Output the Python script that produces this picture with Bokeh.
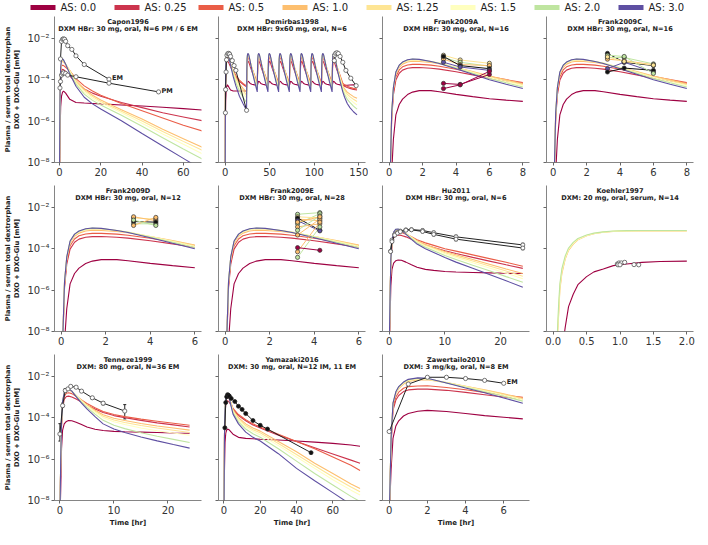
from bokeh.plotting import figure
from bokeh.models import (Range1d, FixedTicker, CustomJSTickFormatter, PrintfTickFormatter,
                          Label, Whisker, ColumnDataSource, TeeHead)
from bokeh.core.properties import value
from bokeh.layouts import column, row
from bokeh.embed import file_html
from bokeh.resources import INLINE

# ---------------- data (log10 of concentration in mM) ----------------
AS_VALUES = [0.0, 0.25, 0.5, 1.0, 1.25, 1.5, 2.0, 3.0]
AS_COLORS = ["#9e0142", "#cc344d", "#ea5d47", "#fdbf6f", "#fee594", "#ffffbf", "#bfe5a0", "#5e4fa2"]
Y_TICKS = [1e-8, 1e-6, 1e-4, 1e-2]

# Capon1996
CAPON_T = [0, 0.3, 0.6, 1, 1.5, 2, 3, 5, 8, 12, 16, 20, 30, 40, 50, 60, 70]
CAPON_M = [
    [-9, -6.5, -5.3, -4.8, -4.6, -4.55, -4.65, -4.95, -5.1, -5.13, -5.15, -5.17, -5.22, -5.27, -5.33, -5.4, -5.47],
    [-9, -4.8, -3.8, -3.55, -3.5, -3.52, -3.6, -3.82, -4.15, -4.45, -4.65, -4.8, -5.1, -5.35, -5.6, -5.8, -6.0],
    [-9, -4.6, -3.6, -3.35, -3.3, -3.32, -3.4, -3.58, -3.95, -4.3, -4.55, -4.75, -5.15, -5.5, -5.85, -6.2, -6.5],
    [-9, -4.5, -3.45, -3.15, -3.12, -3.15, -3.27, -3.55, -4.05, -4.45, -4.75, -4.98, -5.45, -5.9, -6.4, -6.85, -7.3],
    [-9, -4.5, -3.43, -3.1, -3.08, -3.12, -3.25, -3.57, -4.1, -4.52, -4.82, -5.05, -5.52, -6.0, -6.5, -6.98, -7.45],
    [-9, -4.5, -3.42, -3.08, -3.05, -3.09, -3.24, -3.6, -4.15, -4.6, -4.9, -5.12, -5.6, -6.1, -6.62, -7.12, -7.62],
    [-9, -4.5, -3.4, -3.06, -3.02, -3.07, -3.24, -3.65, -4.22, -4.7, -5.0, -5.22, -5.72, -6.25, -6.8, -7.35, -7.88],
    [-9, -4.5, -3.4, -3.05, -3.0, -3.05, -3.25, -3.72, -4.32, -4.85, -5.17, -5.42, -5.98, -6.6, -7.2, -7.8, -8.4],
]
CAPON_EM_T = [0.5, 1, 1.5, 2, 2.5, 3, 4, 6, 8, 12, 24]
CAPON_EM_V = [-3.0, -2.15, -2.05, -2.03, -2.05, -2.15, -2.36, -2.54, -2.85, -3.27, -3.98]
CAPON_PM_T = [0.25, 0.5, 1, 1.5, 2, 3, 4, 8, 24, 48]
CAPON_PM_V = [-4.4, -4.09, -3.78, -3.70, -3.67, -3.70, -3.78, -3.86, -4.17, -4.59]

# Demirbas1998 (first dose, repeated 12 h steady-state cycle, tail)
DEM_FIRST_T = [0, 0.3, 0.6, 1, 1.5, 2.5, 4, 6, 9, 12, 16, 20, 24]
DEM_FIRST_M = [
    [-9, -6.0, -5.0, -4.6, -4.35, -4.25, -4.35, -4.5, -4.55, -4.55, -4.55, -4.55, -4.55],
    [-9, -4.7, -3.75, -3.38, -3.18, -3.1, -3.18, -3.38, -3.65, -3.88, -4.08, -4.22, -4.35],
    [-9, -4.6, -3.6, -3.2, -3.0, -2.92, -3.02, -3.25, -3.55, -3.8, -4.02, -4.18, -4.3],
    [-9, -4.5, -3.45, -3.05, -2.87, -2.8, -2.94, -3.23, -3.6, -3.9, -4.2, -4.42, -4.6],
    [-9, -4.5, -3.42, -3.02, -2.84, -2.78, -2.93, -3.24, -3.65, -3.98, -4.3, -4.53, -4.75],
    [-9, -4.5, -3.4, -3.0, -2.82, -2.76, -2.92, -3.25, -3.7, -4.05, -4.4, -4.65, -4.88],
    [-9, -4.5, -3.4, -3.0, -2.8, -2.74, -2.9, -3.25, -3.75, -4.15, -4.55, -4.85, -5.1],
    [-9, -4.5, -3.4, -3.0, -2.8, -2.73, -2.9, -3.3, -3.85, -4.3, -4.8, -5.15, -5.48],
]
DEM_DOSE_T = [24, 36, 48, 60, 72, 84, 96, 108, 120]
DEM_CYCLE_OFF = [0.3, 0.6, 1, 1.5, 2.5, 4, 6, 9, 12]
DEM_CYCLE_M = [
    [-4.25, -4.2, -4.12, -4.08, -4.1, -4.18, -4.22, -4.25, -4.27],
    [-3.8, -3.4, -3.2, -3.1, -3.15, -3.35, -3.6, -3.95, -4.25],
    [-3.7, -3.2, -3.0, -2.92, -2.98, -3.2, -3.45, -3.8, -4.17],
    [-3.6, -3.05, -2.87, -2.8, -2.88, -3.12, -3.43, -3.85, -4.3],
    [-3.6, -3.02, -2.84, -2.78, -2.86, -3.1, -3.45, -3.9, -4.36],
    [-3.6, -3.0, -2.82, -2.76, -2.84, -3.1, -3.47, -3.95, -4.42],
    [-3.6, -3.0, -2.8, -2.74, -2.82, -3.1, -3.5, -4.02, -4.5],
    [-3.6, -3.0, -2.8, -2.73, -2.8, -3.1, -3.55, -4.1, -4.59],
]
DEM_TAIL_OFF = [14, 17, 20, 24, 28]
DEM_TAIL_M = [
    [-4.27, -4.27, -4.26, -4.25, -4.25],
    [-4.32, -4.38, -4.42, -4.47, -4.5],
    [-4.25, -4.32, -4.37, -4.42, -4.45],
    [-4.45, -4.6, -4.7, -4.82, -4.9],
    [-4.52, -4.7, -4.82, -4.95, -5.05],
    [-4.6, -4.8, -4.95, -5.1, -5.22],
    [-4.72, -4.95, -5.1, -5.28, -5.42],
    [-4.85, -5.15, -5.35, -5.55, -5.7],
]
DEM_D1_T = [0.25, 0.5, 1, 1.5, 2, 3, 4, 5, 6, 8, 10, 12, 24]
DEM_D1_V = [-5.6, -4.48, -3.63, -3.04, -2.82, -2.74, -2.73, -2.77, -2.88, -3.08, -3.32, -3.55, -5.48]
DEM_D2_T = [122.5, 123, 124, 125.5, 127, 129, 132, 135.5, 141, 147]
DEM_D2_V = [-3.08, -2.82, -2.73, -2.70, -2.74, -2.88, -3.16, -3.55, -3.93, -4.29]

# Frank2009 (A, C, D, E share the same simulation)
FRANK_T = [0, 0.08, 0.15, 0.25, 0.4, 0.6, 0.8, 1.1, 1.4, 1.8, 2.5, 3, 4, 5, 6, 7, 8]
FRANK_M = [
    [-9, -9, -8.5, -6.9, -5.7, -5.2, -4.94, -4.72, -4.6, -4.53, -4.53, -4.58, -4.71, -4.82, -4.92, -4.99, -5.05],
    [-9, -8.2, -5.9, -4.75, -4.02, -3.69, -3.54, -3.45, -3.42, -3.41, -3.45, -3.49, -3.62, -3.77, -3.93, -4.06, -4.18],
    [-9, -8.1, -5.75, -4.6, -3.86, -3.53, -3.38, -3.29, -3.26, -3.26, -3.3, -3.35, -3.5, -3.67, -3.85, -4.0, -4.14],
    [-9, -8.0, -5.65, -4.48, -3.73, -3.4, -3.25, -3.15, -3.11, -3.12, -3.17, -3.23, -3.41, -3.61, -3.82, -4.01, -4.2],
    [-9, -8.0, -5.62, -4.44, -3.68, -3.35, -3.2, -3.09, -3.05, -3.06, -3.13, -3.2, -3.41, -3.63, -3.86, -4.05, -4.24],
    [-9, -8.0, -5.6, -4.42, -3.66, -3.33, -3.18, -3.07, -3.03, -3.04, -3.12, -3.2, -3.42, -3.66, -3.9, -4.1, -4.29],
    [-9, -8.0, -5.6, -4.4, -3.64, -3.31, -3.16, -3.05, -3.01, -3.03, -3.12, -3.21, -3.44, -3.69, -3.94, -4.15, -4.35],
    [-9, -8.0, -5.6, -4.4, -3.63, -3.3, -3.15, -3.04, -3.0, -3.02, -3.12, -3.22, -3.47, -3.74, -4.0, -4.22, -4.43],
]
FRANK_A_T = [3.25, 4.25, 6.0]
FRANK_A_AS = [4, 6, 3, -1, 7, 0, 0]
FRANK_A_V = [[-2.82, -3.05, -3.21], [-2.93, -3.16, -3.35], [-3.01, -3.27, -3.32], [-2.88, -3.32, -3.47],
             [-3.16, -3.39, -3.55], [-4.18, -4.23, -3.75], [-4.43, -4.25, -3.6]]
FRANK_C_T = [3.25, 4.25, 6.0]
FRANK_C_AS = [-1, 6, 3, 7, -1, 6, 4]
FRANK_C_V = [[-2.73, -3.16, -3.32], [-2.93, -2.93, -3.24], [-3.01, -3.08, -3.28], [-3.47, -3.16, -3.63],
             [-3.63, -3.44, -3.55], [-2.82, -2.88, -3.7], [-2.9, -3.12, -3.3]]
FRANK_D_T = [3.25, 4.25]
FRANK_D_AS = [4, 3, 6, -1, 3, 6]
FRANK_D_V = [[-2.52, -2.57], [-2.46, -2.65], [-2.8, -2.8], [-2.69, -2.72], [-2.88, -2.49], [-2.62, -2.88]]
FRANK_E_T = [3.25, 4.25]
FRANK_E_AS = [6, 6, 4, 3, -1, 7, 3, 3, 6, 3, 0, 6, 3]
FRANK_E_V = [[-2.34, -2.26], [-2.8, -2.31], [-2.46, -2.52], [-2.57, -2.65], [-2.52, -3.11], [-2.65, -3.14],
             [-2.95, -2.8], [-3.34, -2.57], [-4.42, -2.95], [-4.15, -2.72], [-3.95, -4.08], [-3.11, -2.42],
             [-2.72, -2.46]]

# Hu2011
HU_T = [0, 0.15, 0.3, 0.5, 0.8, 1.2, 1.6, 2.2, 3, 4, 5, 6.5, 8, 10, 12, 15, 18, 21, 24]
HU_M = [
    [-9, -7.5, -5.8, -5.0, -4.7, -4.58, -4.55, -4.56, -4.65, -4.78, -4.9, -5.0, -5.05, -5.1, -5.13, -5.15, -5.17, -5.19, -5.2],
    [-9, -6.7, -4.7, -3.85, -3.48, -3.36, -3.34, -3.36, -3.43, -3.55, -3.68, -3.82, -3.94, -4.1, -4.23, -4.42, -4.6, -4.78, -4.95],
    [-9, -6.6, -4.6, -3.75, -3.36, -3.22, -3.2, -3.22, -3.3, -3.43, -3.57, -3.72, -3.84, -4.0, -4.12, -4.3, -4.48, -4.66, -4.85],
    [-9, -6.5, -4.5, -3.65, -3.26, -3.13, -3.12, -3.15, -3.27, -3.44, -3.62, -3.8, -3.95, -4.14, -4.29, -4.52, -4.75, -4.98, -5.2],
    [-9, -6.5, -4.5, -3.63, -3.24, -3.11, -3.1, -3.14, -3.27, -3.45, -3.65, -3.84, -3.99, -4.2, -4.36, -4.6, -4.84, -5.08, -5.33],
    [-9, -6.5, -4.5, -3.62, -3.22, -3.09, -3.08, -3.13, -3.27, -3.47, -3.68, -3.88, -4.03, -4.25, -4.42, -4.68, -4.93, -5.18, -5.45],
    [-9, -6.5, -4.5, -3.6, -3.2, -3.07, -3.06, -3.12, -3.28, -3.5, -3.72, -3.93, -4.1, -4.33, -4.52, -4.8, -5.07, -5.35, -5.62],
    [-9, -6.5, -4.5, -3.6, -3.2, -3.06, -3.05, -3.12, -3.3, -3.55, -3.78, -4.0, -4.18, -4.43, -4.65, -4.95, -5.25, -5.55, -5.86],
]
HU_D_T = [0.25, 0.5, 1, 1.5, 2, 3, 4, 6, 8, 12, 24]
HU_D1_V = [-4.12, -3.58, -3.31, -3.22, -3.15, -3.09, -3.08, -3.12, -3.23, -3.43, -3.82]
HU_D2_V = [-4.14, -3.66, -3.35, -3.25, -3.18, -3.11, -3.09, -3.17, -3.31, -3.54, -3.97]
HU_ERR = [0.03, 0.03, 0.03, 0.03, 0.03, 0.03, 0.04, 0.06, 0.07, 0.08, 0.08]

# Koehler1997
KOEHLER_T = [0.05, 0.08, 0.1, 0.13, 0.18, 0.23, 0.3, 0.37, 0.5, 0.61, 0.75, 0.9, 1.1, 1.33, 1.6, 2.0]
KOEHLER_AS = [0, 3, 4, 5, 6]
KOEHLER_M = [
    [-9, -9, -9, -9, -7.8, -6.8, -6.2, -5.74, -5.35, -5.12, -4.98, -4.82, -4.74, -4.66, -4.62, -4.6],
    [-9, -7.3, -6.0, -5.2, -4.5, -4.08, -3.78, -3.57, -3.38, -3.28, -3.21, -3.17, -3.15, -3.14, -3.14, -3.14],
    [-9, -7.2, -5.9, -5.12, -4.46, -4.05, -3.76, -3.56, -3.37, -3.27, -3.2, -3.16, -3.14, -3.13, -3.13, -3.13],
    [-9, -7.0, -5.8, -5.05, -4.42, -4.02, -3.74, -3.54, -3.36, -3.27, -3.2, -3.16, -3.14, -3.13, -3.13, -3.13],
    [-9, -6.8, -5.7, -4.97, -4.35, -3.97, -3.7, -3.51, -3.34, -3.25, -3.19, -3.15, -3.13, -3.12, -3.12, -3.12],
]
KOEHLER_D_T = [0.96, 0.985, 1.02, 1.07, 0.97, 1.0, 1.21, 1.28]
KOEHLER_D_V = [-4.74, -4.69, -4.69, -4.66, -4.78, -4.78, -4.77, -4.78]

# Tenneze1999
TEN_T = [0, 0.15, 0.3, 0.5, 0.8, 1.2, 1.6, 2.2, 3, 4, 5, 6.5, 8, 10, 12, 15, 18, 21, 24]
TEN_M = [
    [-9, -7.5, -5.5, -4.6, -4.3, -4.18, -4.14, -4.15, -4.22, -4.33, -4.45, -4.56, -4.62, -4.66, -4.68, -4.7, -4.72, -4.74, -4.75],
    [-9, -6.2, -4.4, -3.5, -3.12, -2.98, -2.96, -3.0, -3.1, -3.25, -3.4, -3.58, -3.75, -3.9, -4.0, -4.13, -4.25, -4.35, -4.45],
    [-9, -6.1, -4.3, -3.35, -2.97, -2.82, -2.8, -2.84, -2.97, -3.15, -3.32, -3.52, -3.7, -3.85, -3.95, -4.07, -4.17, -4.27, -4.37],
    [-9, -6.0, -4.2, -3.25, -2.86, -2.7, -2.67, -2.74, -2.92, -3.16, -3.38, -3.64, -3.86, -4.03, -4.14, -4.28, -4.4, -4.5, -4.6],
    [-9, -6.0, -4.2, -3.23, -2.84, -2.68, -2.65, -2.73, -2.92, -3.18, -3.41, -3.69, -3.93, -4.11, -4.23, -4.38, -4.5, -4.61, -4.72],
    [-9, -6.0, -4.2, -3.22, -2.82, -2.66, -2.63, -2.72, -2.93, -3.2, -3.44, -3.74, -4.0, -4.2, -4.33, -4.5, -4.63, -4.74, -4.85],
    [-9, -6.0, -4.2, -3.2, -2.8, -2.64, -2.61, -2.71, -2.95, -3.25, -3.5, -3.83, -4.13, -4.37, -4.53, -4.73, -4.9, -5.05, -5.2],
    [-9, -6.0, -4.2, -3.2, -2.8, -2.63, -2.6, -2.72, -2.98, -3.3, -3.58, -3.95, -4.3, -4.55, -4.72, -4.93, -5.12, -5.3, -5.47],
]
TEN_D_T = [0, 0.5, 1, 1.5, 2, 3, 4, 6, 8, 12]
TEN_D_V = [-4.79, -3.42, -2.69, -2.61, -2.49, -2.53, -2.72, -3.04, -3.3, -3.68]
TEN_D_LO = [-5.13, -3.5, -2.78, -2.66, -2.54, -2.58, -2.77, -3.1, -3.38, -4.06]
TEN_D_HI = [-4.29, -3.3, -2.6, -2.56, -2.44, -2.48, -2.67, -2.98, -3.22, -3.37]

# Yamazaki2016
YAM_T = [0, 0.3, 0.6, 1, 1.5, 2, 3, 5, 8, 12, 16, 20, 30, 40, 50, 60, 70, 75]
YAM_M = [
    [-9, -6.5, -5.2, -4.75, -4.6, -4.55, -4.6, -4.8, -4.95, -5.0, -5.02, -5.04, -5.08, -5.13, -5.18, -5.24, -5.32, -5.38],
    [-9, -5.0, -3.85, -3.35, -3.2, -3.18, -3.25, -3.6, -3.9, -4.15, -4.35, -4.5, -4.85, -5.15, -5.45, -5.75, -6.05, -6.2],
    [-9, -4.9, -3.7, -3.2, -3.05, -3.02, -3.1, -3.55, -3.85, -4.1, -4.3, -4.45, -4.8, -5.15, -5.5, -5.9, -6.3, -6.55],
    [-9, -4.8, -3.62, -3.12, -2.98, -2.96, -3.04, -3.63, -4.0, -4.3, -4.5, -4.65, -5.15, -5.65, -6.2, -6.7, -7.2, -7.42],
    [-9, -4.8, -3.6, -3.11, -2.97, -2.95, -3.05, -3.67, -4.07, -4.38, -4.58, -4.73, -5.25, -5.78, -6.32, -6.85, -7.35, -7.58],
    [-9, -4.8, -3.6, -3.1, -2.96, -2.94, -3.06, -3.7, -4.12, -4.45, -4.66, -4.82, -5.35, -5.9, -6.45, -7.0, -7.5, -7.73],
    [-9, -4.8, -3.6, -3.1, -2.95, -2.93, -3.08, -3.75, -4.2, -4.55, -4.78, -4.95, -5.5, -6.1, -6.7, -7.25, -7.8, -8.05],
    [-9, -4.8, -3.6, -3.1, -2.95, -2.92, -3.1, -3.83, -4.3, -4.7, -4.95, -5.13, -5.74, -6.45, -7.05, -7.62, -8.2, -8.5],
]
YAM_D_T = [0.5, 1, 1.5, 2, 2.5, 3, 4, 6, 8, 10, 12, 16, 20, 24, 48]
YAM_D_V = [-4.49, -3.27, -2.99, -2.89, -2.92, -2.96, -3.07, -3.22, -3.45, -3.6, -3.8, -4.14, -4.37, -4.55, -5.69]

# Zawertailo2010
ZAW_T = [0, 0.1, 0.2, 0.35, 0.5, 0.75, 1, 1.5, 2, 3, 4, 5, 6, 7]
ZAW_M = [
    [-9, -6.5, -5.0, -4.4, -4.15, -3.92, -3.8, -3.69, -3.65, -3.7, -3.8, -3.9, -3.98, -4.06],
    [-9, -5.3, -3.65, -3.15, -2.93, -2.74, -2.66, -2.62, -2.62, -2.68, -2.78, -2.89, -3.0, -3.1],
    [-9, -5.2, -3.5, -3.0, -2.77, -2.58, -2.5, -2.47, -2.46, -2.54, -2.65, -2.78, -2.9, -3.02],
    [-9, -5.0, -3.35, -2.83, -2.6, -2.38, -2.25, -2.18, -2.17, -2.31, -2.48, -2.66, -2.85, -3.06],
    [-9, -5.0, -3.32, -2.8, -2.56, -2.34, -2.21, -2.14, -2.14, -2.3, -2.49, -2.68, -2.88, -3.1],
    [-9, -5.0, -3.3, -2.78, -2.54, -2.32, -2.19, -2.12, -2.13, -2.31, -2.51, -2.71, -2.92, -3.14],
    [-9, -5.0, -3.3, -2.76, -2.52, -2.3, -2.17, -2.1, -2.11, -2.32, -2.53, -2.75, -2.97, -3.2],
    [-9, -5.0, -3.3, -2.75, -2.5, -2.28, -2.15, -2.08, -2.1, -2.33, -2.57, -2.8, -3.05, -3.3],
]
ZAW_D_T = [0, 1, 2, 3, 4, 5, 6]
ZAW_D_V = [-4.67, -2.38, -2.05, -2.05, -2.11, -2.2, -2.34]

# ---------------- styling ----------------
FONT = "DejaVu Sans"
FW, FH = 147, 146
Y_LO, Y_HI = -8.0, -0.95
SUP_JS = """
const m = {"-":"\\u207b","0":"\\u2070","1":"\\u00b9","2":"\\u00b2","3":"\\u00b3","4":"\\u2074",
           "5":"\\u2075","6":"\\u2076","7":"\\u2077","8":"\\u2078","9":"\\u2079"};
const e = String(Math.round(Math.log10(tick)));
let s = "10";
for (const c of e) { s += m[c]; }
return s;
"""


def L(v):
    return [10 ** x for x in v]


def panel(xr, xticks, t1, t2, col, rw, fmt=None):
    p = figure(frame_width=FW, frame_height=FH, x_range=Range1d(*xr),
               y_range=Range1d(10 ** Y_LO, 10 ** Y_HI), y_axis_type="log",
               output_backend="svg", toolbar_location=None,
               min_border_left=46 if col == 0 else 14, min_border_right=6 if col == 3 else 3,
               min_border_top=2, min_border_bottom=29 if rw == 2 else 21)
    p.outline_line_color = None
    p.grid.visible = False
    for ax in (p.xaxis[0], p.yaxis[0]):
        ax.axis_line_color = "#666666"
        ax.axis_line_width = 0.8
        ax.major_tick_line_color = "#666666"
        ax.major_tick_out = 3
        ax.major_tick_in = 0
        ax.minor_tick_line_color = None
        ax.major_label_text_font = FONT
        ax.major_label_text_font_size = "10px"
        ax.major_label_text_color = "#333333"
        ax.major_label_standoff = 2
    p.xaxis.ticker = FixedTicker(ticks=xticks, minor_ticks=[])
    p.yaxis.ticker = FixedTicker(ticks=Y_TICKS, minor_ticks=[])
    if fmt is not None:
        p.xaxis.formatter = fmt
    if col == 0:
        p.yaxis.formatter = CustomJSTickFormatter(code=SUP_JS)
        p.yaxis.axis_label = "Plasma / serum total dextrorphan\nDXO + DXO-Glu [mM]"
        p.yaxis.axis_label_text_font = FONT
        p.yaxis.axis_label_text_font_style = "bold"
        p.yaxis.axis_label_text_font_size = "6.6px"
        p.yaxis.axis_label_standoff = 3
        p.yaxis.axis_label_text_color = "#222222"
    else:
        p.yaxis.formatter = CustomJSTickFormatter(code="return '';")
        p.yaxis.major_label_standoff = 0
    if rw == 2:
        p.xaxis.axis_label = "Time [hr]"
        p.xaxis.axis_label_text_font = FONT
        p.xaxis.axis_label_text_font_style = "bold"
        p.xaxis.axis_label_text_font_size = "7px"
        p.xaxis.axis_label_standoff = 2
        p.xaxis.axis_label_text_color = "#222222"
    xm = 0.5 * (xr[0] + xr[1])
    for txt, dy in ((t1, 0.26), (t2, 0.6)):
        p.add_layout(Label(x=xm, y=10 ** (Y_HI - dy), text=txt, text_align="center",
                           text_baseline="middle", text_font=FONT, text_font_style="bold",
                           text_font_size="6.6px", text_color="#222222"))
    return p


def models(p, t, rows, idx=None):
    idx = list(range(len(AS_VALUES))) if idx is None else idx
    for k, r in zip(idx, rows):
        p.line(t, L(r), line_color=AS_COLORS[k], line_width=1.1)


def black_data(p, t, v, filled=False, size=4.2):
    p.line(t, L(v), line_color="#222222", line_width=1)
    p.scatter(t, L(v), size=size, fill_color="#111111" if filled else "white",
              line_color="#222222" if filled else "#555555", line_width=0.8)


def color_data(p, t, idxs, vals):
    for k, v in zip(idxs, vals):
        c = "#111111" if k < 0 else AS_COLORS[k]
        p.line(t, L(v), line_color=c, line_width=1)
    for k, v in zip(idxs, vals):
        c = "#111111" if k < 0 else AS_COLORS[k]
        p.scatter(t, L(v), size=4.2, fill_color=c, line_color="#333333", line_width=0.7)


def end_label(p, x, v, text):
    p.add_layout(Label(x=x, y=10 ** v, text=text, x_offset=3, y_offset=1, text_baseline="middle",
                       text_font=FONT, text_font_style="bold", text_font_size="6.5px",
                       text_color="#222222"))


def cut(t, rows, tmax):
    keep = [i for i, x in enumerate(t) if x <= tmax]
    return [t[i] for i in keep], [[r[i] for i in keep] for r in rows]


# ---------------- panels ----------------
p1 = panel((-2.4, 68.8), [0, 20, 40, 60], "Capon1996", "DXM HBr: 30 mg, oral, N=6 PM / 6 EM", 0, 0)
models(p1, CAPON_T, CAPON_M)
black_data(p1, CAPON_EM_T, CAPON_EM_V)
black_data(p1, CAPON_PM_T, CAPON_PM_V)
end_label(p1, CAPON_EM_T[-1], CAPON_EM_V[-1], "EM")
end_label(p1, CAPON_PM_T[-1], CAPON_PM_V[-1], "PM")

dem_t = list(DEM_FIRST_T)
dem_m = [list(r) for r in DEM_FIRST_M]
for d in DEM_DOSE_T:
    for k, off in enumerate(DEM_CYCLE_OFF):
        dem_t.append(d + off)
        for i in range(len(AS_VALUES)):
            dem_m[i].append(DEM_CYCLE_M[i][k])
for k, off in enumerate(DEM_TAIL_OFF):
    dem_t.append(DEM_DOSE_T[-1] + off)
    for i in range(len(AS_VALUES)):
        dem_m[i].append(DEM_TAIL_M[i][k])
p2 = panel((-7.5, 157.5), [0, 50, 100, 150], "Demirbas1998", "DXM HBr: 9x60 mg, oral, N=6", 1, 0)
models(p2, dem_t, dem_m)
black_data(p2, DEM_D1_T, DEM_D1_V)
black_data(p2, DEM_D2_T, DEM_D2_V)

p3 = panel((-0.4, 8.4), [0, 2, 4, 6, 8], "Frank2009A", "DXM HBr: 30 mg, oral, N=16", 2, 0)
models(p3, FRANK_T, FRANK_M)
color_data(p3, FRANK_A_T, FRANK_A_AS, FRANK_A_V)
p4 = panel((-0.4, 8.4), [0, 2, 4, 6, 8], "Frank2009C", "DXM HBr: 30 mg, oral, N=16", 3, 0)
models(p4, FRANK_T, FRANK_M)
color_data(p4, FRANK_C_T, FRANK_C_AS, FRANK_C_V)

ft6, fm6 = cut(FRANK_T, FRANK_M, 6)
p5 = panel((-0.3, 6.3), [0, 2, 4, 6], "Frank2009D", "DXM HBr: 30 mg, oral, N=12", 0, 1)
models(p5, ft6, fm6)
color_data(p5, FRANK_D_T, FRANK_D_AS, FRANK_D_V)
p6 = panel((-0.3, 6.3), [0, 2, 4, 6], "Frank2009E", "DXM HBr: 30 mg, oral, N=28", 1, 1)
models(p6, ft6, fm6)
color_data(p6, FRANK_E_T, FRANK_E_AS, FRANK_E_V)

p7 = panel((-1.2, 25.2), [0, 10, 20], "Hu2011", "DXM HBr: 30 mg, oral, N=6", 2, 1)
models(p7, HU_T, HU_M)
for vv in (HU_D1_V, HU_D2_V):
    src = ColumnDataSource(dict(t=HU_D_T, lo=[10 ** (a - e) for a, e in zip(vv, HU_ERR)],
                                hi=[10 ** (a + e) for a, e in zip(vv, HU_ERR)]))
    p7.add_layout(Whisker(source=src, base="t", lower="lo", upper="hi", line_color="#222222",
                          line_width=1, upper_head=TeeHead(size=3, line_color="#222222"),
                          lower_head=TeeHead(size=3, line_color="#222222")))
    black_data(p7, HU_D_T, vv, size=4)

p8 = panel((-0.1, 2.1), [0, 0.5, 1, 1.5, 2], "Koehler1997", "DXM: 20 mg, oral, serum, N=14", 3, 1,
           fmt=PrintfTickFormatter(format="%.1f"))
models(p8, KOEHLER_T, KOEHLER_M, KOEHLER_AS)
p8.scatter(KOEHLER_D_T, L(KOEHLER_D_V), size=4.2, fill_color="white", line_color="#555555", line_width=0.8)

p9 = panel((-1.0, 26.2), [0, 10, 20], "Tenneze1999", "DXM: 80 mg, oral, N=36 EM", 0, 2)
models(p9, TEN_T, TEN_M)
tsrc = ColumnDataSource(dict(t=TEN_D_T, lo=L(TEN_D_LO), hi=L(TEN_D_HI)))
p9.add_layout(Whisker(source=tsrc, base="t", lower="lo", upper="hi", line_color="#222222", line_width=1,
                      upper_head=TeeHead(size=3, line_color="#222222"),
                      lower_head=TeeHead(size=3, line_color="#222222")))
black_data(p9, TEN_D_T, TEN_D_V)

p10 = panel((-3.0, 78.0), [0, 20, 40, 60], "Yamazaki2016", "DXM: 30 mg, oral, N=12 IM, 11 EM", 1, 2)
models(p10, YAM_T, YAM_M)
black_data(p10, YAM_D_T, YAM_D_V, filled=True, size=4)

p11 = panel((-0.35, 7.35), [0, 2, 4, 6], "Zawertailo2010", "DXM: 3 mg/kg, oral, N=8 EM", 2, 2)
models(p11, ZAW_T, ZAW_M)
black_data(p11, ZAW_D_T, ZAW_D_V)
end_label(p11, ZAW_D_T[-1], ZAW_D_V[-1], "EM")

# ---------------- legend (own strip above the panels) ----------------
LEG_W, LEG_H = 691, 14
LEG_X0, LEG_PITCH, LEG_BAR = 30, 84, 25
lf = figure(width=LEG_W, height=LEG_H, x_range=Range1d(0, LEG_W), y_range=Range1d(0, LEG_H),
            output_backend="svg", toolbar_location=None, x_axis_location=None,
            y_axis_location=None, min_border=0)
lf.outline_line_color = None
lf.grid.visible = False
leg_x = [LEG_X0 + i * LEG_PITCH for i in range(len(AS_VALUES))]
leg_y = [LEG_H / 2] * len(AS_VALUES)
lf.segment(x0=leg_x, y0=leg_y, x1=[x + LEG_BAR for x in leg_x], y1=leg_y,
           line_color=AS_COLORS, line_width=5)
lf.text(x=[x + LEG_BAR + 5 for x in leg_x], y=leg_y, text=[f"AS: {a}" for a in AS_VALUES],
        text_font=value(FONT), text_font_size="10px", text_baseline="middle", text_color="#222222")

layout = column(lf, row(p1, p2, p3, p4), row(p5, p6, p7, p8), row(p9, p10, p11))
open("out.html", "w", encoding="utf-8").write(file_html(layout, INLINE))
